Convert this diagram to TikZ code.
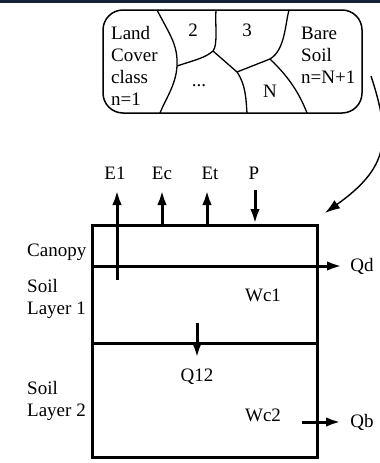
\documentclass[tikz,border=0pt]{standalone}
\usepackage{fontspec}
\setmainfont{Liberation Serif}
\usetikzlibrary{arrows.meta}
\definecolor{banner}{RGB}{22,34,58}
\tikzset{
  flux/.style={
    line width = 3pt,
    -{Latex[length=15pt,width=9.5pt]}
  },
  wall/.style={
    line width = 3pt
  },
  patch/.style={
    line width = 1.3pt,
    line join = round
  },
  lbl/.style={
    inner sep = 0pt,
    align = left,
    font = \fontsize{19}{22}\selectfont
  },
  every picture/.style = {
    x = 1pt,
    y = -1pt
  }
}
\begin{document}
\begin{tikzpicture}
            \useasboundingbox (0,0) rectangle (380,463);
            \fill[banner] (0,0) rectangle (380,3);
            % land cover classes
            \node[draw,line width=1.5pt,rounded corners=20pt,minimum width=259pt,minimum height=103pt] (land) at (232.5,61.5) {};
            \coordinate (j1) at (177,66);
            \coordinate (j2) at (213,51);
            \coordinate (j3) at (237,72);
            \coordinate (j4) at (270,59);
            \draw[patch] (157,10) .. controls (170,35) and (178,45) .. (j1) .. controls (176,85) and (165,100) .. (160,113);
            \draw[patch] (216,10) .. controls (215,25) and (218,45) .. (j2);
            \draw[patch] (j1) .. controls (195,60) and (205,58) .. (j2);
            \draw[patch] (j2) -- (j3) .. controls (246,85) and (246,100) .. (247,113);
            \draw[patch] (j3) -- (j4);
            \draw[patch] (289,10) .. controls (285,25) and (285,50) .. (j4) .. controls (290,78) and (300,95) .. (307,113);
            \node[lbl,anchor=west] (c1) at (111,66) {Land\\Cover\\class\\n=1};
            \node[lbl] (c2) at (193,30) {2};
            \node[lbl] (c3) at (247,30) {3};
            \node[lbl] (cdots) at (199,86) {...};
            \node[lbl] (cN) at (270,91) {N};
            \node[lbl,anchor=west] (cbare) at (301,55) {Bare\\Soil\\n=N+1};
            % soil column
            \node[draw,line width=3pt,minimum width=225pt,minimum height=232pt,inner sep=0pt] (col) at (204.5,341) {};
            \coordinate (from) at (371,76);
            \coordinate (to) at (325,213);
            \draw[line width=1.4pt,-{Latex[length=15pt,width=10pt]}] (from) .. controls (392,140) and (388,168) .. (to);
            \node[lbl] (E1) at (115,173) {E1};
            \node[lbl] (Ec) at (162,173) {Ec};
            \node[lbl] (Et) at (210,173) {Et};
            \node[lbl] (P) at (254,173) {P};
            \coordinate (e1a) at (117,280);
            \coordinate (e1b) at (117,190);
            \coordinate (eca) at (162,225);
            \coordinate (ecb) at (162,190);
            \coordinate (eta) at (207,225);
            \coordinate (etb) at (207,190);
            \coordinate (pa) at (255,190);
            \coordinate (pb) at (255,224);
            \draw[flux] (e1a)--(e1b);
            \draw[flux] (eca)--(ecb);
            \draw[flux] (eta)--(etb);
            \draw[flux] (pa)--(pb);
            \coordinate (cw) at (92,266);
            \coordinate (qd) at (342,266);
            \draw[flux] (cw)--(qd);
            \coordinate (lw) at (92,343);
            \coordinate (le) at (317,343);
            \draw[wall] (lw)--(le);
            \coordinate (qa) at (197,323);
            \coordinate (qb) at (197,358);
            \draw[flux] (qa)--(qb);
            \coordinate (ba) at (302,422);
            \coordinate (bb) at (341,422);
            \draw[flux] (ba)--(bb);
            \node[lbl] (Qd) at (362,266) {Qd};
            \node[lbl] (Qb) at (362,422) {Qb};
            \node[lbl] (Q12) at (197,377) {Q12};
            \node[lbl] (Wc1) at (263,295) {Wc1};
            \node[lbl] (Wc2) at (263,415) {Wc2};
            \node[lbl,anchor=west] (can) at (27,252) {Canopy};
            \node[lbl,anchor=west] (s1) at (27,299) {Soil\\Layer 1};
            \node[lbl,anchor=west] (s2) at (27,401) {Soil\\Layer 2};
        \end{tikzpicture}
\end{document}
